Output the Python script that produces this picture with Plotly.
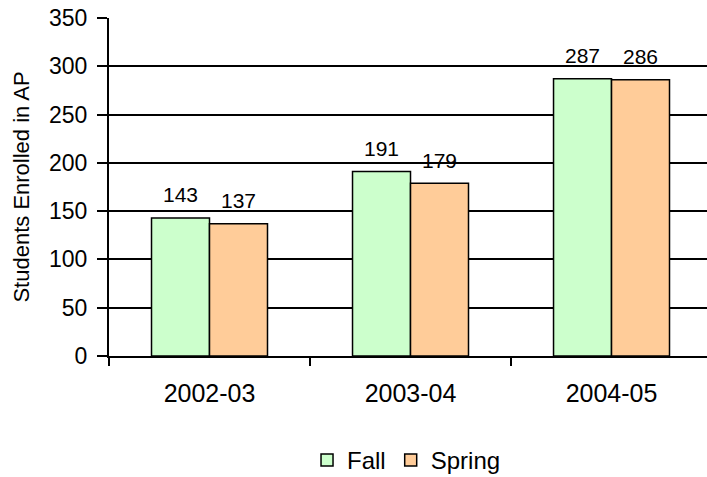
import plotly.graph_objects as go

categories = ["2002-03", "2003-04", "2004-05"]
fall = [143, 191, 287]
spring = [137, 179, 286]
y_ticks = [0, 50, 100, 150, 200, 250, 300, 350]

FONT = "Liberation Sans, Arial, sans-serif"

fig = go.Figure()
fig.add_trace(go.Bar(name="Fall", x=categories, y=fall,
                     marker=dict(color="#CCFFCC", line=dict(color="black", width=1.5))))
fig.add_trace(go.Bar(name="Spring", x=categories, y=spring,
                     marker=dict(color="#FFCC99", line=dict(color="black", width=1.5))))

for i, c in enumerate(categories):
    for val, shift in ((fall[i], -29), (spring[i], 29)):
        fig.add_annotation(x=c, y=val, text=str(val), showarrow=False,
                           xshift=shift, yshift=23, yanchor="middle",
                           font=dict(family=FONT, size=21, color="black"))

fig.update_layout(
    width=707, height=477,
    margin=dict(l=109, r=0, t=18, b=121, pad=0, autoexpand=False),
    paper_bgcolor="white", plot_bgcolor="white",
    barmode="group", bargap=0.423, bargroupgap=0,
    font=dict(family=FONT, color="black"),
    showlegend=True,
    legend=dict(orientation="h", xref="container", yref="container",
                x=0.575, xanchor="center", y=0.035, yanchor="middle",
                font=dict(family=FONT, size=24, color="black"),
                itemwidth=30, tracegroupgap=0),
)
fig.update_xaxes(
    type="category", range=[-0.5, 2.475], automargin=False,
    showline=True, linecolor="black", linewidth=2,
    ticks="outside", tickson="boundaries", ticklen=8, tickwidth=2, tickcolor="black",
    showgrid=False, ticklabelstandoff=14,
    tickfont=dict(family=FONT, size=25, color="black"),
)
fig.update_yaxes(
    range=[0, 350], tickvals=y_ticks, automargin=False,
    showline=True, linecolor="black", linewidth=2,
    ticks="outside", ticklen=10, tickwidth=2, tickcolor="black",
    showgrid=True, gridcolor="black", gridwidth=1.5,
    zeroline=False, ticklabelstandoff=5,
    tickfont=dict(family=FONT, size=23, color="black"),
    title=dict(text="Students Enrolled in AP", standoff=13,
               font=dict(family=FONT, size=22, color="black")),
)

fig.write_html("out.html", config={"displayModeBar": False},
               post_script="document.body.style.margin='0';")
